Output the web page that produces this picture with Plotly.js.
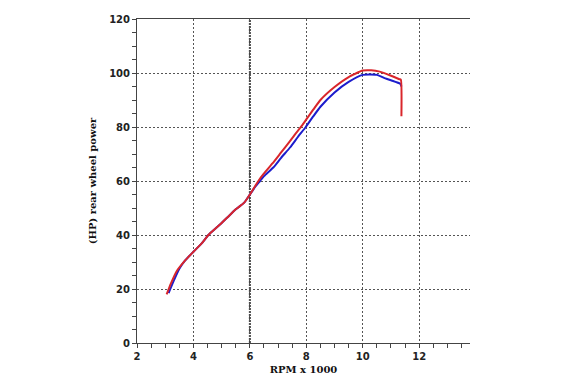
<!DOCTYPE html>
<html>
<head>
<meta charset="utf-8">
<script src="https://cdn.plot.ly/plotly-3.0.1.min.js"></script>
<style>html,body{margin:0;padding:0;background:#fff;}</style>
</head>
<body>
<div id="chart" style="width:565px;height:375px;"></div>
<script>
// Red run
const redRpm = [3.05, 3.2, 3.4, 3.7, 4.0, 4.3, 4.53, 4.9, 5.2, 5.5, 5.8, 6.0, 6.15, 6.3, 6.5, 6.8, 7.1, 7.4, 7.6, 7.83, 8.0, 8.25, 8.5, 9.0, 9.5, 10.0, 10.3, 10.6, 11.0, 11.3, 11.35, 11.37];
const redHp  = [18, 22, 26.5, 30.5, 33.8, 37, 40, 43.5, 46.5, 49.5, 52, 55, 57.5, 60, 62.8, 66.5, 70.5, 74.5, 77.3, 80.3, 82.8, 86.5, 90, 94.8, 98.5, 100.9, 101, 100.5, 99, 97.7, 97.5, 84];
// Blue run
const blueRpm = [3.12, 3.3, 3.5, 3.7, 4.0, 4.3, 4.53, 4.9, 5.2, 5.5, 5.8, 6.0, 6.15, 6.36, 6.5, 6.83, 7.1, 7.43, 7.7, 7.98, 8.25, 8.5, 9.0, 9.5, 10.0, 10.5, 10.8, 11.0, 11.33, 11.37];
const blueHp  = [18.5, 23, 27.5, 30.5, 33.8, 37, 40, 43.5, 46.5, 49.5, 52, 55, 57.3, 60, 61.8, 65, 68.5, 72.5, 76.3, 80, 84, 87.5, 92.8, 96.7, 99.3, 99.3, 98, 97.3, 96, 95];

const xTitle = "RPM x 1000";
const yTitle = "(HP) rear wheel power";

const tickFont = {family: "DejaVu Sans", size: 10, color: "#222", weight: "bold"};
const titleFont = {family: "DejaVu Serif", size: 10, color: "#111", weight: "bold"};

const traces = [
  {x: blueRpm, y: blueHp, mode: "lines", line: {color: "#1c1ccc", width: 2, shape: "spline", smoothing: 0.5}, hoverinfo: "skip"},
  {x: redRpm, y: redHp, mode: "lines", line: {color: "#d9262b", width: 2, shape: "spline", smoothing: 0.5}, hoverinfo: "skip"}
];

const layout = {
  width: 565, height: 375,
  margin: {l: 137, r: 95, t: 19, b: 32},
  paper_bgcolor: "#fff", plot_bgcolor: "#fff",
  showlegend: false,
  xaxis: {
    range: [2, 13.8], dtick: 2, tick0: 2,
    showline: true, linecolor: "#444", linewidth: 1, mirror: true,
    ticks: "outside", ticklen: 4, tickcolor: "#444",
    minor: {dtick: 0.5, ticks: "outside", ticklen: 4, tickcolor: "#444", showgrid: false},
    showgrid: true, gridcolor: "#555", gridwidth: 1, griddash: "2px,2px",
    zeroline: false, tickfont: tickFont,
    title: {text: xTitle, font: titleFont, standoff: 4}
  },
  yaxis: {
    range: [0, 120], dtick: 20,
    showline: true, linecolor: "#444", linewidth: 1,
    ticks: "outside", ticklen: 4, tickcolor: "#444",
    minor: {dtick: 5, ticks: "outside", ticklen: 4, tickcolor: "#444", showgrid: false},
    showgrid: true, gridcolor: "#555", gridwidth: 1, griddash: "2px,2px",
    zeroline: false, tickfont: tickFont,
    title: {text: yTitle, font: titleFont, standoff: 10}
  },
  shapes: [
    {type: "line", xref: "x", yref: "paper", x0: 6, x1: 6, y0: 0, y1: 1,
     line: {color: "#444", width: 2, dash: "2px,1px"}, layer: "below"}
  ]
};

Plotly.newPlot("chart", traces, layout, {staticPlot: true, displayModeBar: false});
</script>
</body>
</html>
